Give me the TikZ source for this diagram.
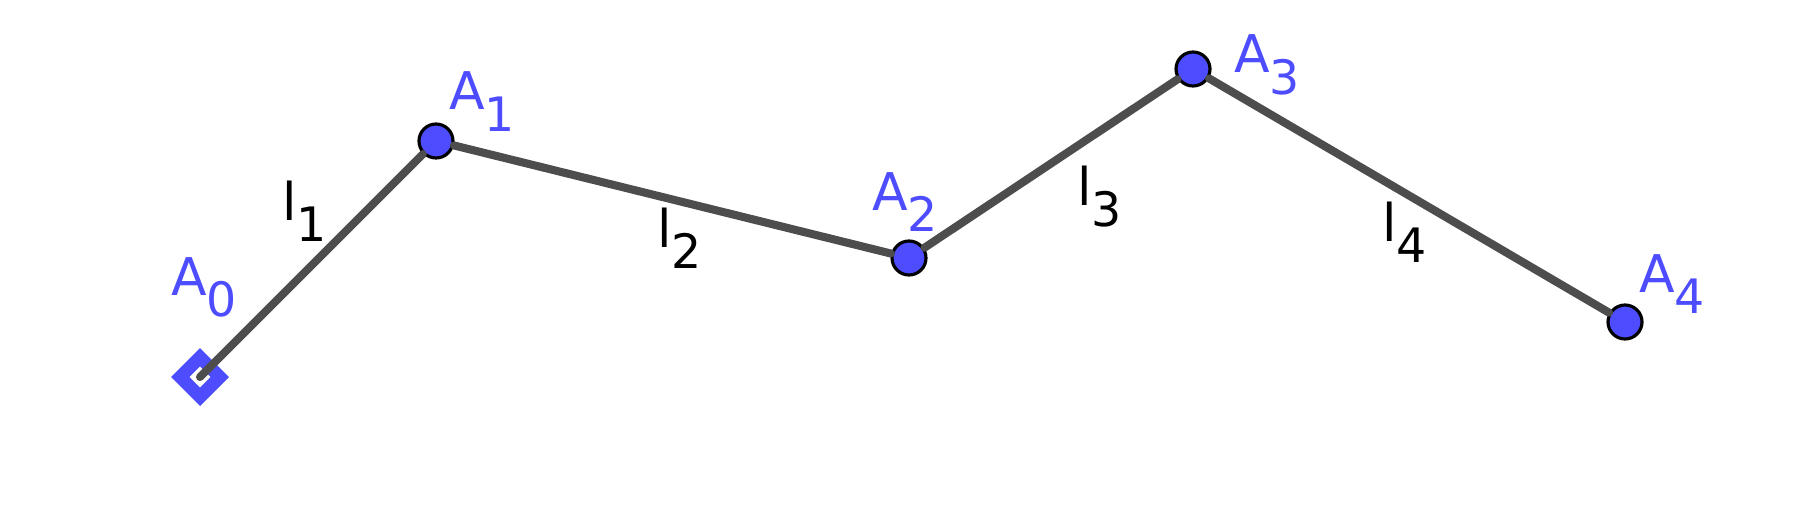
\documentclass[tikz,border=0pt]{standalone}
\usepackage{fontspec}
\setmainfont{DejaVu Sans}
\usetikzlibrary{shapes.geometric}
\definecolor{ptblue}{HTML}{4D4DFF}
\definecolor{seggray}{HTML}{4D4D4D}
\newcommand{\subname}[2]{#1\raisebox{-12.5pt}{\fontsize{27}{27}\selectfont #2}}

\begin{document}
\begin{tikzpicture}[x=0.02cm,y=-0.02cm]
\tikzstyle{point} = [circle, draw=black, fill=ptblue, line width=1.8pt, minimum size=0.68cm, inner sep=0pt];
\tikzstyle{start} = [diamond, aspect=1, draw=ptblue, line width=7.4pt, minimum size=0.9cm, inner sep=0pt];
\tikzstyle{seg} = [draw=seggray, line width=4.6pt, line cap=round];
\tikzstyle{ptlabel} = [text=ptblue, anchor=base west, inner sep=0pt, font=\fontsize{29.6}{30}\selectfont];
\tikzstyle{seglabel} = [text=black, anchor=base west, inner sep=0pt, font=\fontsize{29.6}{30}\selectfont];

\useasboundingbox (0,0) rectangle (1815,510);

\node[start](A0) at (200,377) {};
\node[point](A1) at (436,141) {};
\node[point](A2) at (909,258) {};
\node[point](A3) at (1193,69) {};
\node[point](A4) at (1625,322) {};

\draw[seg] (A0.center) -- (A1);
\draw[seg] (A1) -- (A2);
\draw[seg] (A2) -- (A3);
\draw[seg] (A3) -- (A4);

\node[ptlabel](nameA0) at (171,295) {\subname{A}{0}};
\node[ptlabel](nameA1) at (449,110) {\subname{A}{1}};
\node[ptlabel](nameA2) at (872,210) {\subname{A}{2}};
\node[ptlabel](nameA3) at (1234,73) {\subname{A}{3}};
\node[ptlabel](nameA4) at (1639,292) {\subname{A}{4}};

\node[seglabel](namel1) at (282,220) {\subname{l}{1}};
\node[seglabel](namel2) at (657,247) {\subname{l}{2}};
\node[seglabel](namel3) at (1077,205) {\subname{l}{3}};
\node[seglabel](namel4) at (1382,241) {\subname{l}{4}};
\end{tikzpicture}
\end{document}
